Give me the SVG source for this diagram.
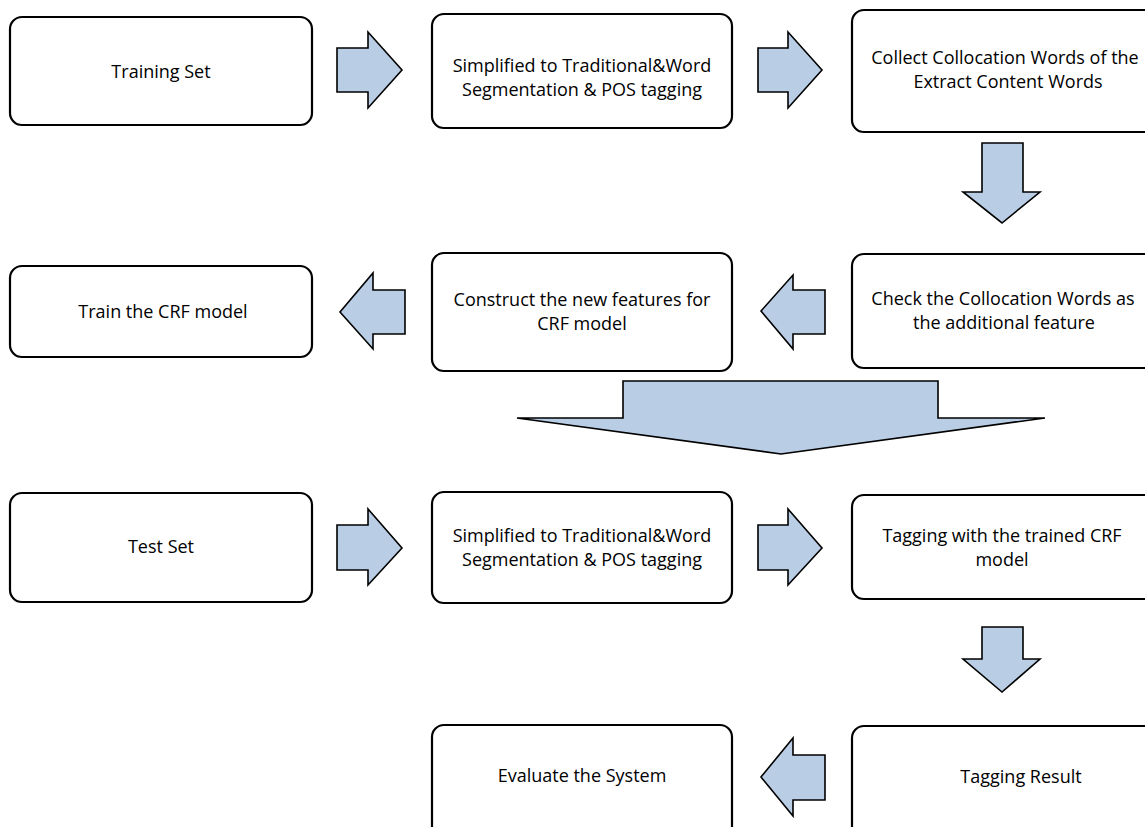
<svg xmlns="http://www.w3.org/2000/svg" width="1145" height="827" viewBox="0 0 1145 827">
<style>
.box{fill:#fff;stroke:#000;stroke-width:2.2}
.arr{fill:#B9CDE5;stroke:#000;stroke-width:1.6;stroke-linejoin:miter}
text{font-family:"Open Sans","Liberation Sans",sans-serif;font-size:18px;fill:#000;text-anchor:middle}
</style>
<rect width="1145" height="827" fill="#fff"/>
<g id="connectors">
<polygon class="arr" points="337,48 368,48 368,32 402,70 368,108 368,92 337,92"/>
<polygon class="arr" points="758,48 788,48 788,32 822,70 788,108 788,92 758,92"/>
<polygon class="arr" points="982,143 1023,143 1023,192 1040,192 1002,223 963,192 982,192"/>
<polygon class="arr" points="825,290 793,290 793,275 761,311 793,349 793,334 825,334"/>
<polygon class="arr" points="405,290 373,290 373,273 340,312 373,349 373,334 405,334"/>
<polygon class="arr" points="623,381 938,381 938,418 1045,418 781,454 517,418 623,418"/>
<polygon class="arr" points="337,525 368,525 368,509 402,548 368,585 368,570 337,570"/>
<polygon class="arr" points="758,525 788,525 788,509 822,548 788,585 788,570 758,570"/>
<polygon class="arr" points="982,627 1023,627 1023,659 1040,659 1002,692 963,659 982,659"/>
<polygon class="arr" points="825,755 793,755 793,738 761,777 793,816 793,800 825,800"/>
</g>
<g id="n1"><rect class="box" x="10" y="17" width="302" height="108" rx="12"/><text x="161" y="78">Training Set</text></g>
<g id="n2"><rect class="box" x="432" y="14" width="300" height="114" rx="12"/><text x="582" y="72">Simplified to Traditional&amp;Word</text><text x="582" y="96">Segmentation &amp; POS tagging</text></g>
<g id="n3"><rect class="box" x="852" y="10" width="316" height="122" rx="12"/><text x="1005" y="64">Collect Collocation Words of the</text><text x="1008" y="88">Extract Content Words</text></g>
<g id="n4"><rect class="box" x="852" y="254" width="316" height="114" rx="12"/><text x="1003" y="305">Check the Collocation Words as</text><text x="1004" y="329">the additional feature</text></g>
<g id="n5"><rect class="box" x="432" y="253" width="300" height="118" rx="12"/><text x="582" y="306">Construct the new features for</text><text x="582" y="330">CRF model</text></g>
<g id="n6"><rect class="box" x="10" y="266" width="302" height="91" rx="12"/><text x="163" y="318">Train the CRF model</text></g>
<g id="n7"><rect class="box" x="10" y="493" width="302" height="109" rx="12"/><text x="161" y="553">Test Set</text></g>
<g id="n8"><rect class="box" x="432" y="492" width="300" height="111" rx="12"/><text x="582" y="542">Simplified to Traditional&amp;Word</text><text x="582" y="566">Segmentation &amp; POS tagging</text></g>
<g id="n9"><rect class="box" x="852" y="495" width="316" height="104" rx="12"/><text x="1002" y="542">Tagging with the trained CRF</text><text x="1002" y="566">model</text></g>
<g id="n10"><rect class="box" x="852" y="726" width="316" height="120" rx="12"/><text x="1021" y="783">Tagging Result</text></g>
<g id="n11"><rect class="box" x="432" y="725" width="300" height="120" rx="12"/><text x="582" y="782">Evaluate the System</text></g>
</svg>
